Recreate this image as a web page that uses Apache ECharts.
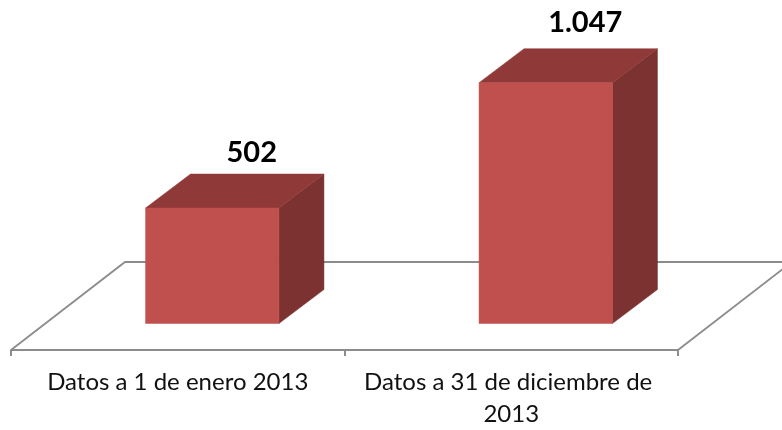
<!DOCTYPE html>
<html><head><meta charset="utf-8">
<style>html,body{margin:0;padding:0;background:#fff}#c{width:782px;height:430px}</style>
<script src="https://cdn.jsdelivr.net/npm/echarts@6/dist/echarts.min.js"></script>
</head><body><div id="c"></div>
<script>
const categories = ['Datos a 1 de enero 2013', 'Datos a 31 de diciembre de 2013'];
const values = [502, 1047];
const valueLabels = ['502', '1.047'];

const FRONT = '#C0504D', TOP = '#8F3A38', SIDE = '#7B3230', LINE = '#8C8C8C';
const FONT = 'Lato, "Open Sans", sans-serif';
const SHIFT_X = 34.5, SHIFT_Y = -26.5, DEPTH_X = 45, DEPTH_Y = -34;
const FLOOR_X = 114, FLOOR_Y = -88;
const LABEL_GAIN = 1.036, LABEL_LIFT = 51.4;

const chart = echarts.init(document.getElementById('c'), null, {renderer: 'canvas'});

function poly(points, fill) {
  return {type: 'polygon', shape: {points}, style: {fill, stroke: fill, lineWidth: 0.5}};
}

chart.setOption({
  animation: false,
  backgroundColor: '#fff',
  grid: {left: 11, right: 104, top: 28, bottom: 80},
  xAxis: {
    type: 'category',
    data: categories,
    axisLine: {show: true, lineStyle: {color: LINE, width: 2}},
    axisTick: {show: true, length: 6, lineStyle: {color: LINE, width: 2}},
    axisLabel: {
      interval: 0, color: '#111', fontFamily: FONT, fontSize: 24,
      lineHeight: 32, margin: 16, width: 320, overflow: 'break'
    }
  },
  yAxis: {type: 'value', min: 0, max: 1400, show: false, splitLine: {show: false}},
  series: [
    {
      type: 'custom',
      coordinateSystem: 'cartesian2d',
      clip: false,
      z: 1,
      data: [[0, 0]],
      renderItem(params) {
        const c = params.coordSys;
        const y0 = c.y + c.height, x0 = c.x, x1 = c.x + c.width;
        return {
          type: 'polyline',
          shape: {points: [[x0, y0], [x0 + FLOOR_X, y0 + FLOOR_Y], [x1 + FLOOR_X, y0 + FLOOR_Y], [x1, y0]]},
          style: {fill: 'none', stroke: LINE, lineWidth: 1.8}
        };
      }
    },
    {
      type: 'custom',
      coordinateSystem: 'cartesian2d',
      clip: false,
      z: 2,
      data: values.map((v, i) => [i, v]),
      encode: {x: 0, y: 1},
      renderItem(params, api) {
        const i = api.value(0);
        const base = api.coord([i, 0]);
        const top = api.coord([i, api.value(1)]);
        const w = api.size([1, 0])[0] * 0.4;
        const l = base[0] + SHIFT_X - w / 2, r = l + w;
        const b = base[1] + SHIFT_Y, t = top[1] + SHIFT_Y;
        const dx = DEPTH_X, dy = DEPTH_Y;
        return {
          type: 'group',
          children: [
            poly([[r, t], [r + dx, t + dy], [r + dx, b + dy], [r, b]], SIDE),
            poly([[l, t], [l + dx, t + dy], [r + dx, t + dy], [r, t]], TOP),
            poly([[l, t], [r, t], [r, b], [l, b]], FRONT),
            {
              type: 'text',
              style: {
                text: valueLabels[i],
                x: (l + r) / 2 + 39.5, y: b - (b - t) * LABEL_GAIN - LABEL_LIFT,
                align: 'center', verticalAlign: 'middle',
                fill: '#000', fontFamily: FONT, fontSize: 29, fontWeight: 'bold'
              }
            }
          ]
        };
      }
    }
  ]
});
</script></body></html>
